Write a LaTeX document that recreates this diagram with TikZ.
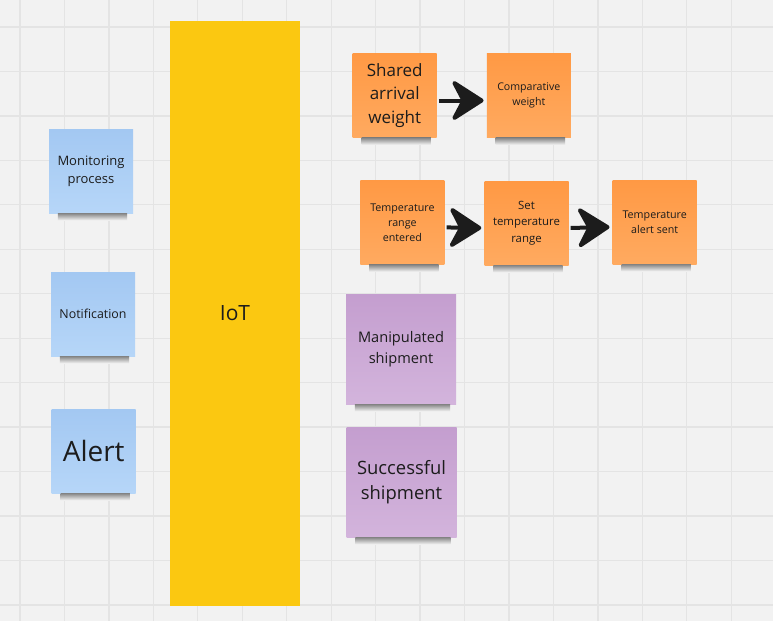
\documentclass[tikz,border=0pt]{standalone}
\usepackage{fontspec}
\setmainfont{Open Sans}
\usetikzlibrary{arrows.meta}
\definecolor{board}{HTML}{F2F2F2}
\definecolor{gridline}{HTML}{E4E4E4}
\definecolor{ink}{HTML}{1C1C1C}
\definecolor{iotyellow}{HTML}{FBC811}
\definecolor{blueA}{HTML}{A3C8F2}
\definecolor{blueB}{HTML}{B6D6F8}
\definecolor{orangeA}{HTML}{FF9944}
\definecolor{orangeB}{HTML}{FFAA60}
\definecolor{purpleA}{HTML}{C49ECF}
\definecolor{purpleB}{HTML}{D3B4DC}
\begin{document}
\begin{tikzpicture}[x=1pt,y=-1pt,
    sticky/.style={rectangle, inner sep=0pt, minimum width=84pt, minimum height=84pt, align=center, text=ink},
    bluenote/.style={sticky, top color=blueA, bottom color=blueB},
    orangenote/.style={sticky, top color=orangeA, bottom color=orangeB},
    purplenote/.style={sticky, minimum width=110pt, minimum height=110pt, top color=purpleA, bottom color=purpleB},
    flow/.style={draw=ink, line width=4pt, -{Stealth[round, length=36pt 0 0, width=46pt 0 0, inset=12pt 0]}, shorten <=2pt, shorten >=3pt}]
    % board and grid
    \fill[board] (0,0) rectangle (773,621);
    \useasboundingbox (0,0) rectangle (773,621);
    \foreach \k in {0,...,16} \draw[gridline, line width=1.3pt] (20+44.45*\k,0) -- (20+44.45*\k,621);
    \foreach \k in {0,...,13} \draw[gridline, line width=1.3pt] (0,27+44.45*\k) -- (773,27+44.45*\k);
    % left column
    \node[bluenote, font=\fontsize{13}{18}\selectfont] (mon) at (91,171) {Monitoring\\process};
    \node[bluenote, font=\fontsize{12.4}{17}\selectfont] (notif) at (93,314) {Notification};
    \node[bluenote, font=\fontsize{28}{36}\selectfont] (alert) at (93.7,451) {Alert};
    % IoT bar
    \node[rectangle, fill=iotyellow, inner sep=0pt, minimum width=130pt, minimum height=585pt, text=ink, font=\fontsize{21}{28}\selectfont] (iot) at (235,313.5) {IoT};
    % weight row
    \node[orangenote, font=\fontsize{17}{23.3}\selectfont] (shared) at (394.7,95.5) {Shared\\arrival\\weight};
    \node[orangenote, font=\fontsize{10.6}{15}\selectfont] (comp) at (528.8,95.5) {Comparative\\weight};
    % temperature row
    \node[orangenote, font=\fontsize{10.7}{15}\selectfont] (tre) at (402.4,222.4) {Temperature\\range\\entered};
    \node[orangenote, font=\fontsize{11.4}{16.3}\selectfont] (str) at (526.5,223) {Set\\temperature\\range};
    \node[orangenote, font=\fontsize{10.7}{15}\selectfont] (tas) at (654.7,222) {Temperature\\alert sent};
    % shipment notes
    \node[purplenote, font=\fontsize{14.6}{21}\selectfont] (manip) at (401,349) {Manipulated\\shipment};
    \node[purplenote, font=\fontsize{18.4}{25}\selectfont] (succ) at (401.5,482) {Successful\\shipment};
    % shadows under the notes
    \foreach \n in {mon,notif,alert,shared,comp,tre,str,tas,manip,succ}
        \shade[top color=black!45!board, bottom color=board] ([xshift=9pt]\n.south west) rectangle ([xshift=-6pt,yshift=-7pt]\n.south east);
    % arrows
    \draw[flow] ([yshift=-5pt]shared.east) -- ([yshift=-5pt]comp.west);
    \draw[flow] ([yshift=-5pt]tre.east) -- ([yshift=-5pt]str.west);
    \draw[flow] ([yshift=-5pt]str.east) -- ([yshift=-5pt]tas.west);
\end{tikzpicture}
\end{document}
